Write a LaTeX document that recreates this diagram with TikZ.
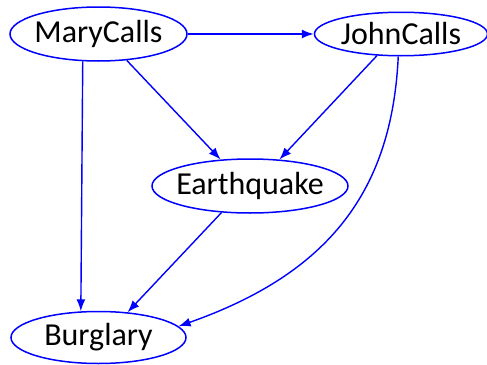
\documentclass[tikz,border=0pt]{standalone}
\usepackage{fontspec}
\setmainfont{Carlito}
\usetikzlibrary{positioning}
\usetikzlibrary{arrows.meta}
\usetikzlibrary{shapes.geometric}

\begin{document}
\begin{tikzpicture}[x=0.5pt, y=-0.5pt,
var/.style={ellipse, draw=blue, line width=0.75pt, inner xsep=-6pt, inner ysep=-3pt, font=\fontsize{16}{19}\selectfont},
paths/.style={blue, line width=0.7pt, -{Latex[length=6pt, width=4.5pt]}}
]
\useasboundingbox (0,0) rectangle (487,364);
%create nodes
\node[var, minimum width=88.5pt, minimum height=27pt] (mary) at (98.5,34) {MaryCalls};
\node[var, minimum width=86.5pt, minimum height=21.75pt, right=63pt of mary] (john) {JohnCalls};
\node[var, minimum width=98pt, minimum height=27pt] (quake) at (250,186) {Earthquake};
\node[var, minimum width=87.5pt, minimum height=26pt, below=124.5pt of mary] (burglary) {Burglary};

%draw paths
\draw[paths] (mary.east) -- (john.west);
\draw[paths] (mary.240) -- (burglary.124.5);
\draw[paths] (mary.317) -- (quake.138.3);
\draw[paths] (john.222.7) -- (quake.42.8);
\draw[paths] (quake.223.9) -- (burglary.41.9);
\draw[paths] (john.263.4) .. controls (392,190) and (330,273) .. (burglary.8.9);

\end{tikzpicture}
\end{document}
